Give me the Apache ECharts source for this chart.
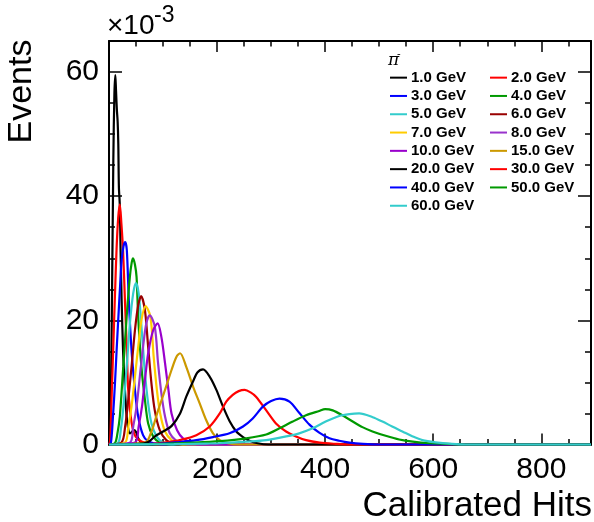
<!DOCTYPE html>
<html><head><meta charset="utf-8">
<script src="https://cdn.jsdelivr.net/npm/echarts@6/dist/echarts.min.js"></script>
<style>html,body{margin:0;padding:0;background:#fff;overflow:hidden}#c{width:594px;height:522px}</style>
</head><body><div id="c"></div>
<script>
// Energies (legend labels)
const labels = ['1.0 GeV','2.0 GeV','3.0 GeV','4.0 GeV','5.0 GeV','6.0 GeV','7.0 GeV','8.0 GeV','10.0 GeV','15.0 GeV','20.0 GeV','30.0 GeV','40.0 GeV','50.0 GeV','60.0 GeV'];
// Tick labels
const xTickLabels = [0, 200, 400, 600, 800];
const yTickLabels = [0, 20, 40, 60];
// Series values: [Calibrated Hits, Events x 1e-3]
const e1 = [[0,0],[2,0.7],[5,19],[8,45.8],[10,56.5],[11.7,59.5],[13,57],[14.5,54],[16,52],[17.2,48.5],[18.3,41.5],[20,38.5],[21.5,31],[23.4,23.2],[26,15.2],[29.5,8.8],[32.7,4.5],[36,2.3],[39,1.8],[42,2.0],[46,2.3],[50,2.0],[54,1.0],[58,0.5],[65,0.1],[75,0],[892,0]];
const e2 = [[0,0],[2,0.5],[5,8],[8,16],[11,24],[14,31.5],[17,36.5],[20,38.7],[23,35.5],[26,31.3],[29.5,23.2],[33,15.2],[35.6,8.8],[42,3.4],[49,1.3],[60,0.5],[80,0.1],[95,0],[892,0]];
const e3 = [[0,0],[3.6,0.3],[7,4],[11,9.8],[14,15],[17.4,20.6],[20.5,25.5],[23.4,29.7],[27,32],[30,32.6],[33,31.3],[36.7,23.2],[41.7,15.2],[48,8.8],[54,4.5],[63,1.5],[72.5,0.5],[90,0.1],[105,0],[892,0]];
const e4 = [[0,0],[11,0.2],[16,2],[20,4.5],[26.4,12.5],[32.7,20.6],[38.6,27],[42,29.3],[44.5,30],[48,29],[51,27],[54,20.6],[60,12.5],[66.5,7.2],[72.5,3.4],[81.7,1.3],[94,0.3],[110,0],[892,0]];
const e5 = [[0,0],[17,0.3],[22,2.5],[26,5.5],[32.7,12.5],[38.7,19.5],[44.7,24.3],[49.8,26],[55,24.3],[61,17.9],[66.5,11.5],[72.5,6.6],[78.6,3.4],[88,1.3],[100,0.3],[115,0],[892,0]];
const e6 = [[0,0],[23,0.3],[30,3],[35.6,7.2],[41.7,12.5],[48,18.4],[54,22.4],[59.5,23.9],[66.5,21.6],[72.5,15.7],[78.6,9.8],[84.7,5.5],[94,2.3],[106,0.7],[120,0.1],[135,0],[892,0]];
const e7 = [[0,0],[29.5,0.3],[36,3],[41.7,6.1],[48,10.9],[54,15.7],[60,20],[67.5,22.3],[76.6,20.6],[82.7,14.1],[88.6,8.8],[94.7,5.0],[103.7,2.1],[115.7,0.7],[130,0.1],[145,0],[892,0]];
const e8 = [[0,0],[38.6,0.3],[45,3],[51,6.1],[57,10.9],[63,15.7],[69,19.5],[75.5,20.8],[84.7,19],[90.8,13.1],[97,8.2],[103.7,4.5],[112.5,1.8],[124.7,0.6],[140,0.1],[155,0],[892,0]];
const e10 = [[0,0],[48,0.3],[55,3],[61,6.1],[66.5,10.4],[72.5,14.7],[81.7,18.4],[90,19.5],[97,17.3],[103.7,13.1],[110,8.8],[115.7,5],[126,2.3],[137,1.0],[155,0.2],[170,0],[892,0]];
const e15 = [[0,0],[66.5,0.3],[78.6,2.1],[90.8,5.5],[103.7,8.8],[115.7,12],[124.7,14.1],[131.5,14.7],[143,12.5],[155.7,9.3],[168,6.6],[180,3.9],[192.4,1.8],[205,0.7],[220,0.2],[240,0],[892,0]];
const e20 = [[0,0],[55,0.1],[72.5,0.4],[85,1.3],[100,2.1],[116,3.0],[131,4.9],[143,7.7],[155.7,10.2],[163.5,11.6],[174,12.1],[186.5,10.9],[198.7,8.8],[211,6.1],[223,3.8],[235.6,2.1],[248,1.2],[260,0.6],[275,0.2],[295,0],[892,0]];
const e30 = [[0,0],[80,0.1],[110,0.4],[131,0.7],[161.6,1.5],[186.4,2.9],[205,5.0],[217,6.9],[229,8.0],[240,8.6],[251,8.8],[262,8.4],[272,7.7],[291,5.5],[309,3.4],[327.7,2.1],[346,1.3],[364.6,0.7],[390,0.3],[420,0.1],[445,0],[892,0]];
const e40 = [[0,0],[90,0.1],[131,0.4],[161.6,0.7],[192.4,1.2],[223,1.8],[248,2.9],[266,4.2],[284.7,6.1],[300,7.0],[315.5,7.4],[334,6.9],[352,5.1],[371,3.2],[389,1.9],[408,1.0],[426,0.6],[445,0.3],[470,0.1],[500,0],[892,0]];
const e50 = [[0,0],[100,0.1],[155.7,0.3],[205,0.55],[254,1.0],[291,1.6],[315.5,2.6],[340,3.7],[364.6,4.7],[389,5.4],[400,5.7],[414,5.5],[432,4.7],[451,3.7],[469,2.8],[487.6,2.1],[512,1.4],[537,0.8],[562,0.45],[593,0.2],[624,0.1],[660,0],[892,0]];
const e60 = [[0,0],[120,0.05],[180,0.15],[205,0.2],[254,0.45],[291,0.7],[328,1.3],[352,1.8],[377,2.6],[401,3.7],[426,4.6],[445,4.9],[463,5.0],[488,4.4],[506,3.7],[524,2.9],[543,2.1],[562,1.3],[580,0.7],[604,0.35],[635,0.1],[660,0],[892,0]];

const seriesData = [e1,e2,e3,e4,e5,e6,e7,e8,e10,e15,e20,e30,e40,e50,e60];
const colors = ['#000000','#ff0000','#0000ff','#009900','#33cccc','#990000','#ffcc00','#9933cc','#9900cc','#cc9900','#000000','#ff0000','#0000ff','#009900','#33cccc'];

const FONT = '"Liberation Sans", Arial, sans-serif';
const X_MAX = 892, Y_MAX = 65;

const chart = echarts.init(document.getElementById('c'), null, {renderer: 'canvas'});

function xAx(pos, interval, len, showLine, showLabel) {
  return {
    type: 'value', position: pos, min: 0, max: X_MAX, interval: interval,
    axisLine: {show: showLine, onZero: false, lineStyle: {color: '#000', width: 2}},
    axisTick: {show: true, inside: true, length: len, lineStyle: {color: '#000', width: 1.5}},
    axisLabel: {show: showLabel, fontSize: 30, fontFamily: FONT, color: '#000', margin: 10,
      formatter: v => xTickLabels.indexOf(v) >= 0 ? String(v) : ''},
    splitLine: {show: false}
  };
}
function yAx(pos, interval, len, showLine, showLabel) {
  return {
    type: 'value', position: pos, min: 0, max: Y_MAX, interval: interval,
    axisLine: {show: showLine, onZero: false, lineStyle: {color: '#000', width: 2}},
    axisTick: {show: true, inside: true, length: len, lineStyle: {color: '#000', width: 1.5}},
    axisLabel: {show: showLabel, fontSize: 30, fontFamily: FONT, color: '#000', margin: 10, padding: [4,0,0,0],
      formatter: v => yTickLabels.indexOf(v) >= 0 ? String(v) : ''},
    splitLine: {show: false}
  };
}

const leftNames = labels.filter((_, i) => i % 2 === 0);
const rightNames = labels.filter((_, i) => i % 2 === 1);
function legend(names, left) {
  return {
    data: names, orient: 'vertical', left: left, top: 68.5, padding: 0,
    itemWidth: 17, itemHeight: 2, itemGap: 0, icon: 'rect', selectedMode: false,
    textStyle: {fontSize: 15, fontWeight: 'bold', fontFamily: FONT, color: '#000', lineHeight: 18.3, padding: [0,0,0,-1]}
  };
}

chart.setOption({
  animation: false,
  backgroundColor: '#fff',
  grid: {left: 109, top: 41, right: 1.3, bottom: 77.5, containLabel: false},
  xAxis: [xAx('bottom', 50, 5.5, true, true), xAx('bottom', 200, 11, false, false),
          xAx('top', 50, 5.5, true, false), xAx('top', 200, 11, false, false)],
  yAxis: [yAx('left', 5, 6, true, true), yAx('left', 20, 13, false, false),
          yAx('right', 5, 6, true, false), yAx('right', 20, 13, false, false)],
  legend: [legend(leftNames, 390), legend(rightNames, 490)],
  series: seriesData.map((d, i) => ({
    name: labels[i], type: 'line', data: d, xAxisIndex: 0, yAxisIndex: 0,
    showSymbol: false, symbol: 'none', smooth: 0.3, clip: false, silent: true,
    color: colors[i], lineStyle: {color: colors[i], width: 2.2}
  })),
  graphic: [
    {type: 'text', x: 22, y: 91.5, rotation: Math.PI / 2,
     style: {text: 'Events', fontSize: 34, fontFamily: FONT, fill: '#000', align: 'center', verticalAlign: 'middle'}},
    {type: 'text', x: 592, y: 506,
     style: {text: 'Calibrated Hits', fontSize: 35, fontFamily: FONT, fill: '#000', align: 'right', verticalAlign: 'middle'}},
    {type: 'text', x: 107, y: 26,
     style: {text: '\u00d710', fontSize: 28, fontFamily: FONT, fill: '#000', align: 'left', verticalAlign: 'middle'}},
    {type: 'text', x: 154, y: 16,
     style: {text: '-3', fontSize: 23, fontFamily: FONT, fill: '#000', align: 'left', verticalAlign: 'middle'}},
    {type: 'text', x: 388, y: 61,
     style: {text: '\u03c0', fontSize: 17, fontStyle: 'italic', fontFamily: '"DejaVu Serif", serif', fill: '#000', align: 'left', verticalAlign: 'middle'}},
    {type: 'text', x: 397, y: 54,
     style: {text: '-', fontSize: 11, fontFamily: FONT, fill: '#000', align: 'left', verticalAlign: 'middle'}}
  ]
});
</script></body></html>
